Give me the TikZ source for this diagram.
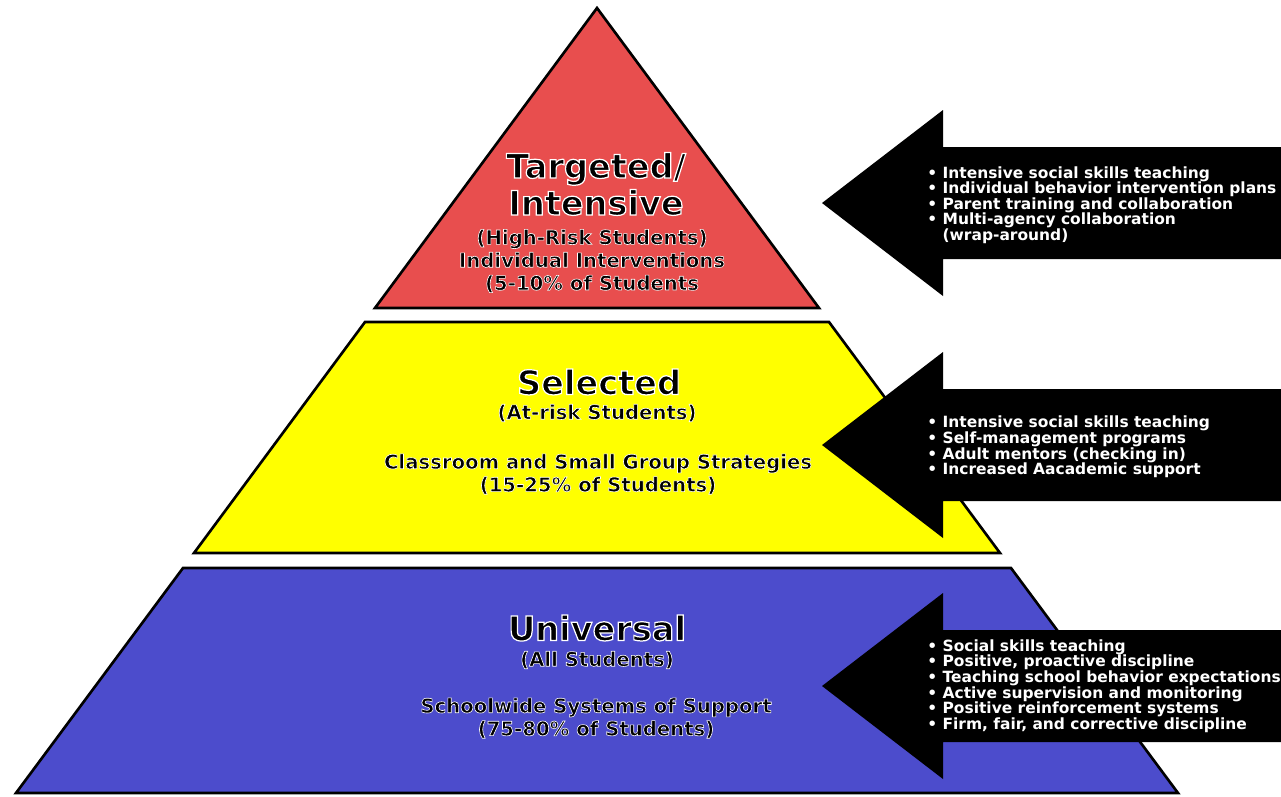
\documentclass[tikz,border=0pt]{standalone}
\usepackage{fontspec}
\setmainfont{DejaVu Sans}
\definecolor{tierred}{RGB}{232,78,78}
\definecolor{tieryellow}{RGB}{255,255,0}
\definecolor{tierblue}{RGB}{76,76,204}
\newcommand{\halo}[2][0.7]{\special{pdf:literal direct q 2 Tr #1 w 1 1 1 RG}#2\special{pdf:literal direct Q}}

\begin{document}
\begin{tikzpicture}[x=0.02cm, y=-0.02cm,
    tier/.style={draw=black, line width=1.5pt, line join=miter},
    head/.style={inner sep=0pt, align=center,
                 font=\fontsize{19.1}{21}\selectfont\bfseries},
    sub/.style={inner sep=0pt, align=center,
                font=\fontsize{11.2}{13}\selectfont\bfseries},
    note/.style={inner sep=0pt, anchor=west, align=left, text=white,
                 font=\fontsize{8.8}{8.9}\selectfont\bfseries},
    blockarr/.style={fill=black}
  ]
    \useasboundingbox (0,0) rectangle (1281,796);
    \clip (0,0) rectangle (1281,796);
    \fill[white] (0,0) rectangle (1281,796);

    \draw[tier, fill=tierred]    (597,8) -- (819,308) -- (375,308) -- cycle;
    \draw[tier, fill=tieryellow] (365,322) -- (829,322) -- (1000,553) -- (194,553) -- cycle;
    \draw[tier, fill=tierblue]   (183,568) -- (1011,568) -- (1178,793) -- (16,793) -- cycle;

    \foreach \c in {203,445,686}
      \fill[blockarr] (822,\c) -- (943,\c-93) -- (943,\c-56) -- (1300,\c-56)
        -- (1300,\c+56) -- (943,\c+56) -- (943,\c+93) -- cycle;

    \node[head] (tgtHead)  at (596,184) {\halo{Targeted/}\\\halo{Intensive}};
    \node[sub]  (tgtSub)   at (592,261) {\halo[0.35]{(High-Risk Students)}\\\halo[0.35]{Individual Interventions}\\\halo[0.35]{(5-10\% of Students}};
    \node[head] (selHead)  at (599,382) {\halo{Selected}};
    \node[sub]  (selSub)   at (597,413) {\halo[0.35]{(At-risk Students)}};
    \node[sub]  (selScope) at (598,474) {\halo[0.35]{Classroom and Small Group Strategies}\\\halo[0.35]{(15-25\% of Students)}};
    \node[head] (uniHead)  at (597,628) {\halo{Universal}};
    \node[sub]  (uniSub)   at (597,660) {\halo[0.35]{(All Students)}};
    \node[sub]  (uniScope) at (596,718) {\fontsize{11.2}{13.6}\selectfont\halo[0.35]{Schoolwide Systems of Support}\\\halo[0.35]{(75-80\% of Students)}};

    \node[note] (tgtNote) at (927,205) {• Intensive social skills teaching\\• Individual behavior intervention plans\\• Parent training and collaboration\\• Multi-agency collaboration\\\phantom{• }(wrap-around)};
    \node[note] (selNote) at (927,447) {• Intensive social skills teaching\\• Self-management programs\\• Adult mentors (checking in)\\• Increased Aacademic support};
    \node[note] (uniNote) at (927,686) {• Social skills teaching\\• Positive, proactive discipline\\• Teaching school behavior expectations\\• Active supervision and monitoring\\• Positive reinforcement systems\\• Firm, fair, and corrective discipline};
  \end{tikzpicture}
\end{document}
